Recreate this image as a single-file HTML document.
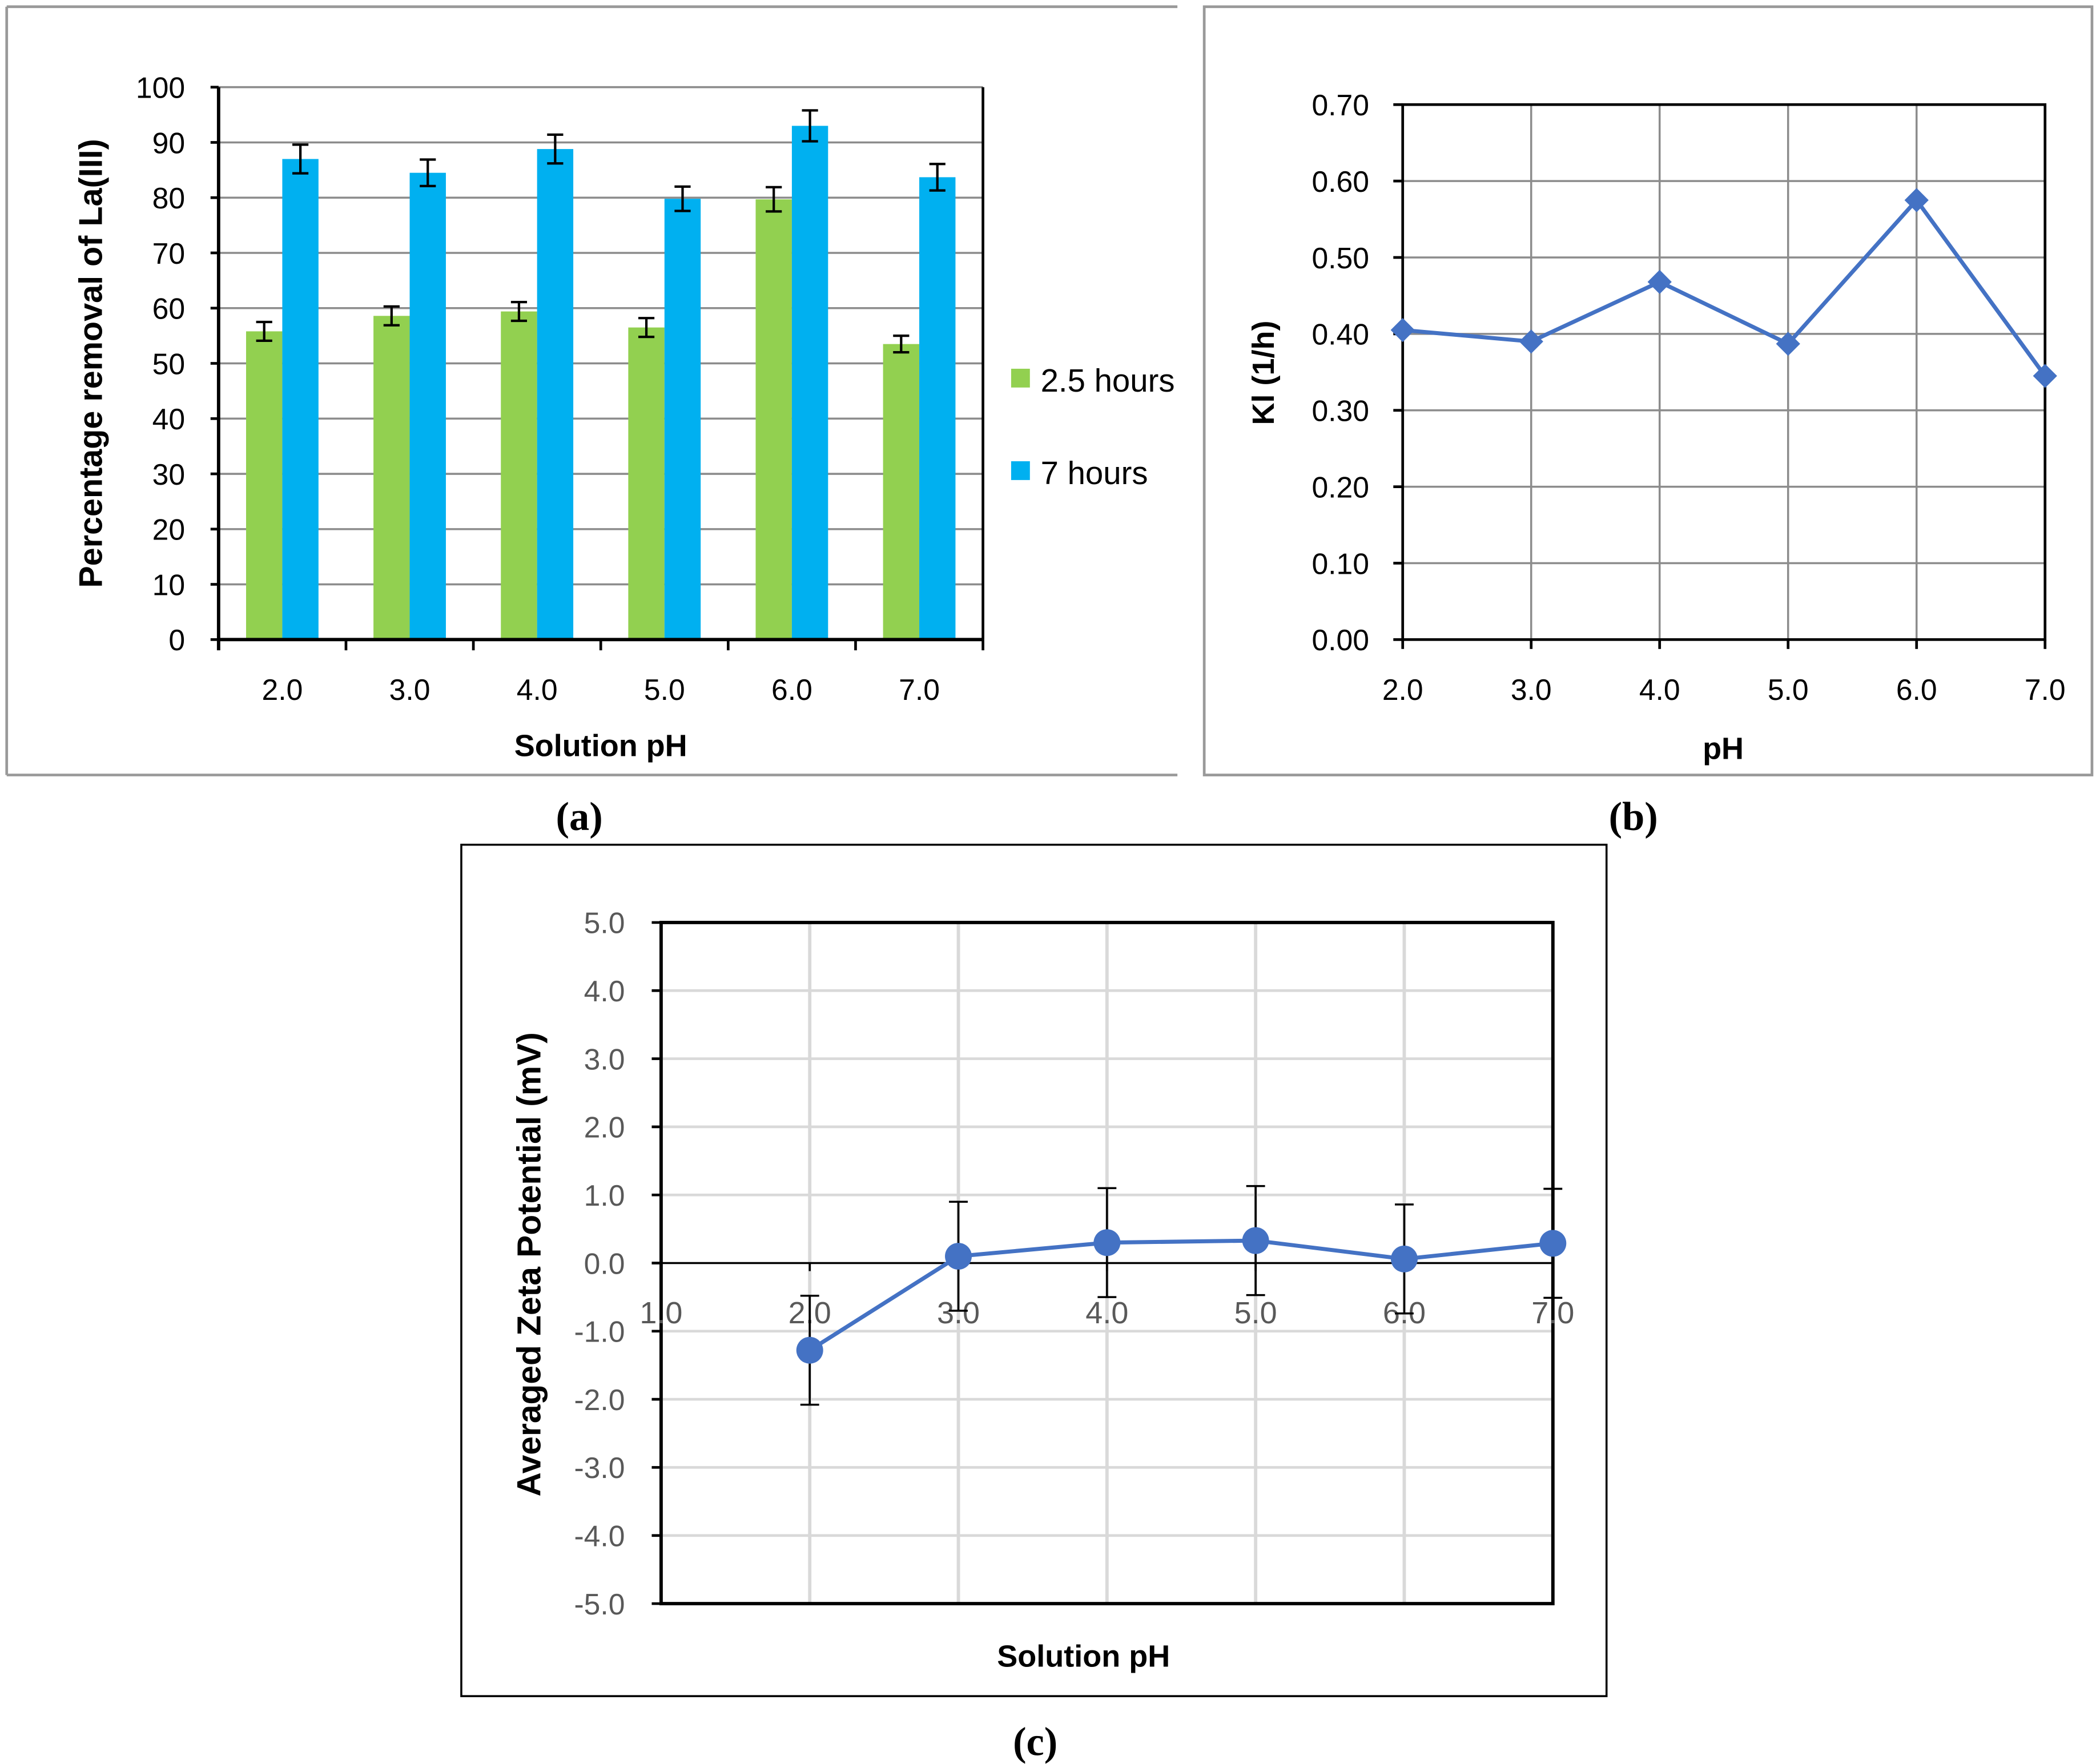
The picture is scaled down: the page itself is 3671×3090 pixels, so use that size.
<!DOCTYPE html>
<html><head><meta charset="utf-8"><style>
html,body{margin:0;padding:0;background:#fff}
svg{display:block}
text{font-family:"Liberation Sans","DejaVu Sans",sans-serif}
</style></head><body>
<svg id="fig" width="3671" height="3090" viewBox="0 0 1563 1315.6" xmlns="http://www.w3.org/2000/svg"></svg>
<script>
// Panel (a) data
const catsA = ["2.0","3.0","4.0","5.0","6.0","7.0"];
const green25 = [55.8,58.6,59.4,56.5,79.7,53.5];
const green25Err = [1.7,1.7,1.7,1.7,2.2,1.5];
const blue7 = [87.0,84.5,88.8,79.8,93.0,83.7];
const blue7Err = [2.6,2.4,2.6,2.2,2.8,2.4];
const ticksA = [0,10,20,30,40,50,60,70,80,90,100];
// Panel (b) data
const phB = [2,3,4,5,6,7];
const klB = [0.405,0.390,0.468,0.387,0.575,0.345];
const ticksB = [0,0.1,0.2,0.3,0.4,0.5,0.6,0.7];
const xticksB = [2,3,4,5,6,7];
// Panel (c) data
const phC = [2,3,4,5,6,7];
const zetaC = [-1.28,0.10,0.30,0.33,0.06,0.29];
const zetaErr = [0.8,0.8,0.8,0.8,0.8,0.8];
const ticksC = [-5,-4,-3,-2,-1,0,1,2,3,4,5];
const xticksC = [1,2,3,4,5,6,7];

const svg=document.getElementById('fig');
const NS='http://www.w3.org/2000/svg';
function el(tag,attrs,name,txt){const e=document.createElementNS(NS,tag);for(const k in attrs)e.setAttribute(k,attrs[k]);


if(txt!==undefined)e.textContent=txt;svg.appendChild(e);return e;}
function line(x1,y1,x2,y2,st,w,name){return el('line',{x1,y1,x2,y2,stroke:st,'stroke-width':w},name);}
function txt(x,y,s,name,o){o=o||{};return el('text',Object.assign({x,y,'font-size':o.fs||21,fill:o.fill||'#000','text-anchor':o.a||'middle','font-weight':o.fw||'normal'},o.extra||{}),name,s);}

// ---------- Panel A ----------
const aX0=163,aX1=733,aY0=477,aY1=65;
const ya=v=>aY0-(v/100)*(aY0-aY1);
const cw=(aX1-aX0)/catsA.length;
ticksA.forEach(t=>{if(t>0)line(aX0,ya(t),aX1,ya(t),'#8c8c8c',1.5,'gridline-a');
 line(aX0-6,ya(t),aX0,ya(t),'#000',2,'tick-a');txt(aX0-25,ya(t)+8,String(t),'y-tick-label-a',{fs:22,a:'end'});});
line(aX1,aY1,aX1,aY0,'#000',2,'plot-border-a');
catsA.forEach((c,i)=>{const cx=aX0+cw*(i+0.5);
 el('rect',{x:cx-27,y:ya(green25[i]),width:27,height:aY0-ya(green25[i]),fill:'#92d050'},'bar-2.5h-'+c);
 el('rect',{x:cx,y:ya(blue7[i]),width:27,height:aY0-ya(blue7[i]),fill:'#00b0f0'},'bar-7h-'+c);
 [[cx-13.5,green25[i],green25Err[i]],[cx+13.5,blue7[i],blue7Err[i]]].forEach(([x,v,e])=>{
  line(x,ya(v+e),x,ya(v-e),'#000',1.8,'error-bar');line(x-6,ya(v+e),x+6,ya(v+e),'#000',1.8,'error-cap');line(x-6,ya(v-e),x+6,ya(v-e),'#000',1.8,'error-cap');});
 txt(cx,522,c,'x-tick-label-a',{fs:22});
 line(aX0+cw*(i+1),aY0,aX0+cw*(i+1),aY0+8,'#000',2,'tick-a-x');});
line(aX0,aY1,aX0,aY0+8,'#000',2.5,'y-axis-a');line(aX0,aY0,aX1,aY0,'#000',2.5,'x-axis-a');
txt(448,564,'Solution pH','x-axis-title-a',{fs:23,fw:'bold'});
txt(76,271,'Percentage removal of La(III)','y-axis-title-a',{fs:24.5,fw:'bold',extra:{transform:'rotate(-90 76 271)'}});
el('rect',{x:754,y:275,width:14,height:14,fill:'#92d050'},'legend-swatch-2.5h');
txt(776,292,'2.5 hours','legend-label-2.5h',{fs:24,a:'start'});
el('rect',{x:754,y:344,width:14,height:14,fill:'#00b0f0'},'legend-swatch-7h');
txt(776,361,'7 hours','legend-label-7h',{fs:24,a:'start'});
el('rect',{x:879,y:260,width:18,height:50,fill:'#fff'},'legend-clip');
line(5,5,878,5,'#999',2,'panel-a-border-top');line(5,5,5,578,'#999',2,'panel-a-border-left');line(5,578,878,578,'#999',2,'panel-a-border-bottom');
txt(432,619,'(a)','panel-label-a',{fs:30,fw:'bold'}).setAttribute('style','font-family:"Liberation Serif",serif');

// ---------- Panel B ----------
el('rect',{x:898,y:5,width:662,height:573,fill:'none',stroke:'#999','stroke-width':2},'panel-b-border');
const bX0=1046,bX1=1525,bY0=477,bY1=78;
const xb=v=>bX0+(v-2)/5*(bX1-bX0), yb=v=>bY0-v/0.7*(bY0-bY1);
ticksB.forEach(t=>{line(bX0,yb(t),bX1,yb(t),'#8c8c8c',1.5,'gridline-b');line(bX0-7,yb(t),bX0,yb(t),'#000',2,'tick-b');
 txt(bX0-25,yb(t)+8,t.toFixed(2),'y-tick-label-b',{fs:22,a:'end'});});
xticksB.forEach(t=>{line(xb(t),bY1,xb(t),bY0,'#8c8c8c',1.5,'vgrid-b');line(xb(t),bY0,xb(t),bY0+7,'#000',2,'tick-b-x');
 txt(xb(t),522,t.toFixed(1),'x-tick-label-b',{fs:22});});
el('rect',{x:bX0,y:bY1,width:bX1-bX0,height:bY0-bY1,fill:'none',stroke:'#000','stroke-width':2},'plot-border-b');
el('polyline',{points:phB.map((p,i)=>xb(p)+','+yb(klB[i])).join(' '),fill:'none',stroke:'#4472c4','stroke-width':3},'kl-line');
phB.forEach((p,i)=>{const x=xb(p),y=yb(klB[i]);el('polygon',{points:`${x},${y-9} ${x+9},${y} ${x},${y+9} ${x-9},${y}`,fill:'#4472c4'},'kl-marker');});
txt(1285,566,'pH','x-axis-title-b',{fs:23,fw:'bold'});
txt(950,278,'Kl (1/h)','y-axis-title-b',{fs:23,fw:'bold',extra:{transform:'rotate(-90 950 278)'}});
txt(1218,619,'(b)','panel-label-b',{fs:30,fw:'bold'}).setAttribute('style','font-family:"Liberation Serif",serif');

// ---------- Panel C ----------
el('rect',{x:344,y:630,width:854,height:635,fill:'none',stroke:'#000','stroke-width':1.5},'panel-c-border');
const cX0=493,cX1=1158,cY0=1196,cY1=688;
const xc=v=>cX0+(v-1)/6*(cX1-cX0), yc=v=>cY0-(v+5)/10*(cY0-cY1);
ticksC.forEach(t=>{if(t!==0)line(cX0,yc(t),cX1,yc(t),'#d9d9d9',2,'gridline-c');line(cX0-7,yc(t),cX0,yc(t),'#000',2,'tick-c');
 txt(cX0-27,yc(t)+8,t.toFixed(1),'y-tick-label-c',{fs:22,a:'end',fill:'#595959'});});
xticksC.forEach(t=>{line(xc(t),cY1,xc(t),cY0,'#d9d9d9',2.5,'vgrid-c');});
el('rect',{x:cX0,y:cY1,width:cX1-cX0,height:cY0-cY1,fill:'none',stroke:'#000','stroke-width':2.5},'plot-border-c');
line(cX0,yc(0),cX1,yc(0),'#000',1.5,'zero-line-c');
xticksC.forEach(t=>{line(xc(t),yc(0),xc(t),yc(0)+6,'#000',1.5,'tick-c-x');txt(xc(t),987,t.toFixed(1),'x-tick-label-c',{fs:23,fill:'#595959'});});
el('polyline',{points:phC.map((p,i)=>xc(p)+','+yc(zetaC[i])).join(' '),fill:'none',stroke:'#4472c4','stroke-width':3},'zeta-line');
phC.forEach((p,i)=>{const x=xc(p),v=zetaC[i],e=zetaErr[i];
 line(x,yc(v+e),x,yc(v-e),'#000',1.5,'error-bar-c');line(x-7,yc(v+e),x+7,yc(v+e),'#000',1.5,'error-cap-c');line(x-7,yc(v-e),x+7,yc(v-e),'#000',1.5,'error-cap-c');
 el('circle',{cx:x,cy:yc(v),r:10,fill:'#4472c4'},'zeta-marker');});
txt(808,1243,'Solution pH','x-axis-title-c',{fs:23,fw:'bold'});
txt(403,943,'Averaged Zeta Potential (mV)','y-axis-title-c',{fs:25,fw:'bold',extra:{transform:'rotate(-90 403 943)'}});
txt(772,1309,'(c)','panel-label-c',{fs:30,fw:'bold'}).setAttribute('style','font-family:"Liberation Serif",serif');
</script>
</body></html>
